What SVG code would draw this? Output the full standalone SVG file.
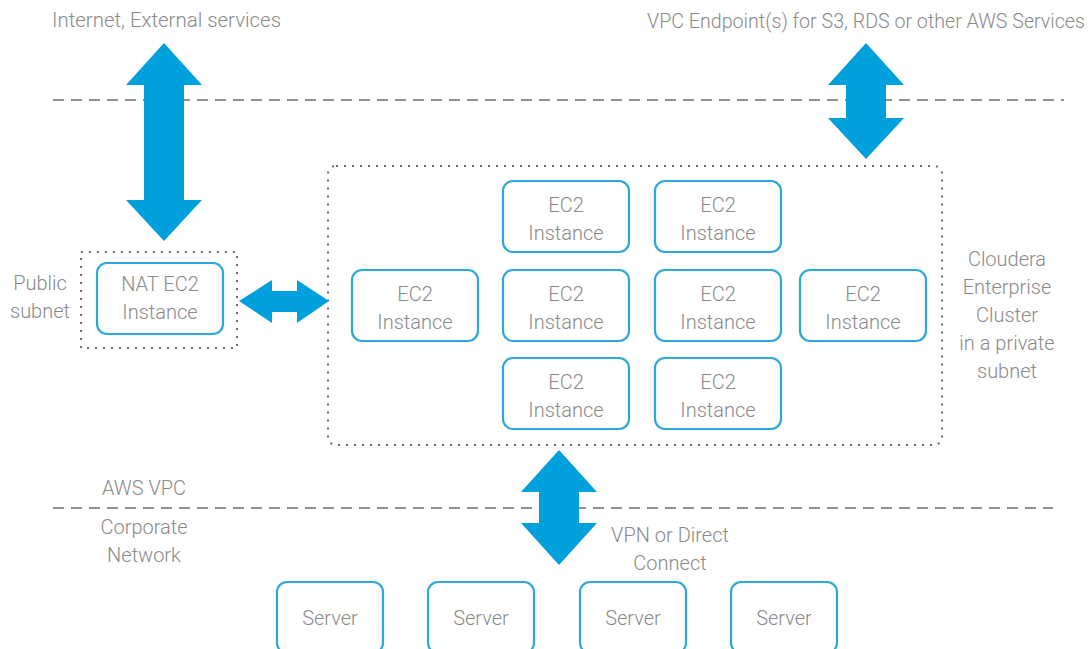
<svg xmlns="http://www.w3.org/2000/svg" width="1091" height="649" viewBox="0 0 1091 649">
<style>
text{font-family:Roboto,"Liberation Sans",sans-serif;font-weight:300;fill:#8a8a8a;font-size:20px;text-anchor:middle}
.hdr{font-size:20px;text-anchor:start}
.box{fill:#fff;stroke:#2ea8dc;stroke-width:2.2}
.dash{stroke:#6e6e6e;stroke-width:1.6;stroke-dasharray:11,7;fill:none}
.dot{stroke:#6e6e6e;stroke-width:2;stroke-dasharray:2,6;fill:none}
.arr{fill:#00a0dc}
</style>
<rect width="1091" height="649" fill="#fff"/>
<g id="boundaries">
<line class="dash" x1="53" y1="100" x2="1064" y2="100"/>
<line class="dash" x1="53" y1="508" x2="1053" y2="508"/>
<rect class="dot" x="81" y="252" width="156" height="96"/>
<rect class="dot" x="328" y="166" width="614" height="279" rx="8"/>
</g>
<g id="labels">
<text class="hdr" x="52" y="27" textLength="229" lengthAdjust="spacingAndGlyphs">Internet, External services</text>
<text class="hdr" x="647" y="28" textLength="438" lengthAdjust="spacingAndGlyphs">VPC Endpoint(s) for S3, RDS or other AWS Services</text>
<text x="40" y="290">Public</text>
<text x="40" y="318">subnet</text>
<text x="1007" y="266">Cloudera</text>
<text x="1007" y="294">Enterprise</text>
<text x="1007" y="322">Cluster</text>
<text x="1007" y="350">in a private</text>
<text x="1007" y="378">subnet</text>
<text x="144" y="495">AWS VPC</text>
<text x="144" y="534">Corporate</text>
<text x="144" y="562">Network</text>
<text x="670" y="542">VPN or Direct</text>
<text x="670" y="570">Connect</text>
</g>
<g id="nat">
<rect class="box" x="97" y="263" width="126" height="71" rx="10"/>
<text x="160" y="291">NAT EC2</text>
<text x="160" y="319">Instance</text>
</g>
<g id="ec2-1"><rect class="box" x="503" y="181" width="126" height="71" rx="10"/><text x="566" y="212">EC2</text><text x="566" y="240">Instance</text></g>
<g id="ec2-2"><rect class="box" x="655" y="181" width="126" height="71" rx="10"/><text x="718" y="212">EC2</text><text x="718" y="240">Instance</text></g>
<g id="ec2-3"><rect class="box" x="352" y="270" width="126" height="71" rx="10"/><text x="415" y="301">EC2</text><text x="415" y="329">Instance</text></g>
<g id="ec2-4"><rect class="box" x="503" y="270" width="126" height="71" rx="10"/><text x="566" y="301">EC2</text><text x="566" y="329">Instance</text></g>
<g id="ec2-5"><rect class="box" x="655" y="270" width="126" height="71" rx="10"/><text x="718" y="301">EC2</text><text x="718" y="329">Instance</text></g>
<g id="ec2-6"><rect class="box" x="800" y="270" width="126" height="71" rx="10"/><text x="863" y="301">EC2</text><text x="863" y="329">Instance</text></g>
<g id="ec2-7"><rect class="box" x="503" y="358" width="126" height="71" rx="10"/><text x="566" y="389">EC2</text><text x="566" y="417">Instance</text></g>
<g id="ec2-8"><rect class="box" x="655" y="358" width="126" height="71" rx="10"/><text x="718" y="389">EC2</text><text x="718" y="417">Instance</text></g>
<g id="server-1"><rect class="box" x="277" y="582" width="106" height="71" rx="10"/><text x="330" y="625">Server</text></g>
<g id="server-2"><rect class="box" x="428" y="582" width="106" height="71" rx="10"/><text x="481" y="625">Server</text></g>
<g id="server-3"><rect class="box" x="580" y="582" width="106" height="71" rx="10"/><text x="633" y="625">Server</text></g>
<g id="server-4"><rect class="box" x="731" y="582" width="106" height="71" rx="10"/><text x="784" y="625">Server</text></g>
<g id="connectors">
<polygon class="arr" points="164,43 202,85 184,85 184,200 202,200 164,241 126,200 144,200 144,85 126,85"/>
<polygon class="arr" points="866,43 904,85 886,85 886,118 904,118 866,159 828,118 846,118 846,85 828,85"/>
<polygon class="arr" points="239,301 272,280 272,291 297,291 297,280 329,301 297,323 297,312 272,312 272,323"/>
<polygon class="arr" points="559,450 597,492 579,492 579,523 597,523 559,565 521,523 539,523 539,492 521,492"/>
</g>
</svg>
